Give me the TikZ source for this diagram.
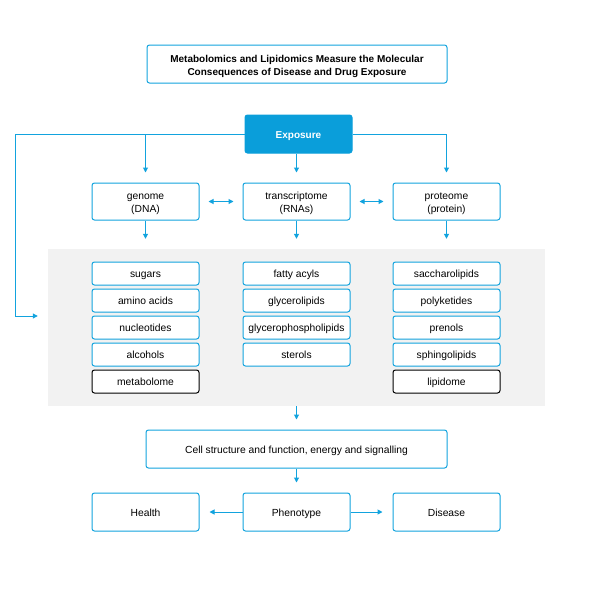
\documentclass[tikz,border=0pt]{standalone}
\usepackage{fontspec}
\setmainfont{Liberation Sans}
\usetikzlibrary{positioning, arrows.meta, calc}
\definecolor{lineblue}{HTML}{12A3DE}
\definecolor{expblue}{HTML}{0A9EDA}
\definecolor{panelgray}{HTML}{F2F2F2}

\begin{document}
\begin{tikzpicture}[
  x=1pt, y=-1pt,
  font=\fontsize{10.3}{13}\selectfont,
  box/.style={draw=lineblue, line width=1pt, rounded corners=2.5pt, fill=white,
              minimum width=107pt, minimum height=37pt, inner sep=1pt, align=center},
  pair/.style={box, text height=22.5pt, text depth=0pt},
  single/.style={box, text height=8.7pt, text depth=0.3pt},
  item/.style={single, minimum height=23pt},
  total/.style={item, draw=black},
  expo/.style={single, draw=expblue, fill=expblue, text=white, font=\fontsize{10}{13}\selectfont\bfseries},
  arr/.style={draw=lineblue, line width=1pt, -{Triangle[length=5pt, width=5pt]}, shorten >=10pt},
  darr/.style={arr, {Triangle[length=5pt, width=5pt]}-{Triangle[length=5pt, width=5pt]}, shorten <=9pt, shorten >=9pt}
]
\useasboundingbox (0,0) rectangle (600,600);

% title and exposure
\node[pair, text height=23pt, minimum width=300pt, minimum height=38pt, font=\fontsize{10}{13}\selectfont\bfseries]
  (title) at (297, 64) {Metabolomics and Lipidomics Measure the Molecular\\Consequences of Disease and Drug Exposure};
\node[expo, minimum height=38pt] (exposure) at (298.5, 134) {Exposure};

% omics layer
\node[pair] (genome)   at (145.5, 201.5) {genome\\(DNA)};
\node[pair] (transcr)  at (296.5, 201.5) {transcriptome\\(RNAs)};
\node[pair] (proteome) at (446.5, 201.5) {proteome\\(protein)};

% grey panel with metabolites and lipids
\node[fill=panelgray, draw=none, inner sep=0pt, minimum width=497pt, minimum height=157pt]
  (panel) at (296.5, 327.5) {};

\node[item]  (sugars)  at (145.5, 273.5) {sugars};
\node[item]  (amino)   at (145.5, 300.5) {amino acids};
\node[item]  (nucl)    at (145.5, 327.5) {nucleotides};
\node[item]  (alcoh)   at (145.5, 354.5) {alcohols};
\node[total] (metab)   at (145.5, 381.5) {metabolome};

\node[item]  (fatty)   at (296.5, 273.5) {fatty acyls};
\node[item]  (glyc)    at (296.5, 300.5) {glycerolipids};
\node[item]  (glycph)  at (296.5, 327.5) {glycerophospholipids};
\node[item]  (sterols) at (296.5, 354.5) {sterols};

\node[item]  (sacch)   at (446.5, 273.5) {saccharolipids};
\node[item]  (polyk)   at (446.5, 300.5) {polyketides};
\node[item]  (prenols) at (446.5, 327.5) {prenols};
\node[item]  (sphing)  at (446.5, 354.5) {sphingolipids};
\node[total] (lipid)   at (446.5, 381.5) {lipidome};

% outcome layer
\node[single, minimum width=301pt, minimum height=38pt] (cell) at (296.5, 449) {Cell structure and function, energy and signalling};
\node[single, minimum height=38pt] (health)    at (145.5, 512) {Health};
\node[single, minimum height=38pt] (phenotype) at (296.5, 512) {Phenotype};
\node[single, minimum height=38pt] (disease)   at (446.5, 512) {Disease};

\coordinate (loop) at (15, 316);

% connectors
\draw[arr] (exposure.west) -| (loop) -- (loop -| panel.west);
\draw[arr] (exposure.east) -| (proteome.north);
\draw[arr] (genome.north |- exposure.west) -- (genome.north);
\draw[arr] (exposure.south -| transcr.north) -- (transcr.north);

\draw[darr] (genome) -- (transcr);
\draw[darr] (transcr) -- (proteome);

\draw[arr] (genome.south)   -- (genome.south |- panel.north);
\draw[arr] (transcr.south)  -- (transcr.south |- panel.north);
\draw[arr] (proteome.south) -- (proteome.south |- panel.north);

\draw[arr] (panel.south) -- (cell.north);
\draw[arr] (cell.south) -- (phenotype.north);
\draw[arr] (phenotype) -- (health);
\draw[arr] (phenotype) -- (disease);
\end{tikzpicture}
\end{document}
